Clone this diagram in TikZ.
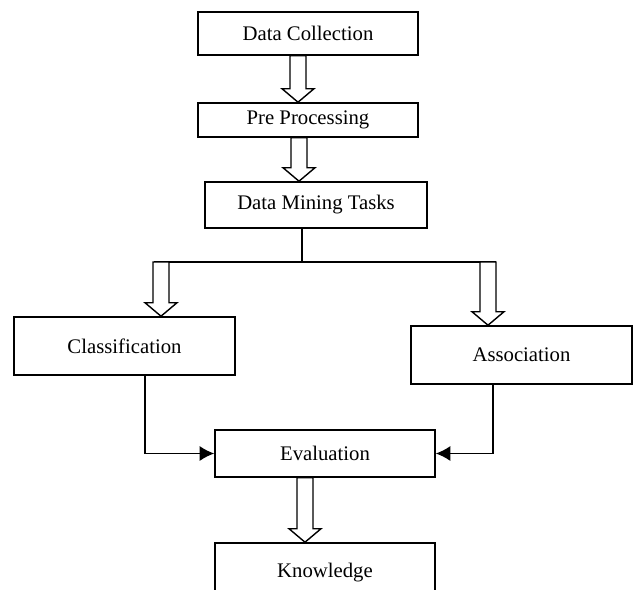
\documentclass[tikz,border=0pt]{standalone}
\usepackage{fontspec}
\setmainfont{Liberation Serif}
\usetikzlibrary{arrows.meta,calc}

% grosse fleche creuse : depart, arrivee (on garde le x du depart)
\newcommand{\grossefleche}[2]{%
  \draw[fleche] let \p1=(#1), \p2=(#2) in
    (\x1-0.16cm,\y1) -- (\x1+0.16cm,\y1) -- (\x1+0.16cm,\y2+0.27cm)
    -- (\x1+0.32cm,\y2+0.27cm) -- (\x1,\y2) -- (\x1-0.32cm,\y2+0.27cm)
    -- (\x1-0.16cm,\y2+0.27cm) -- cycle;}

\begin{document}
\begin{tikzpicture}[x=0.02cm, y=-0.02cm]
\tikzset{boite/.style={draw, line width=0.9pt, inner sep=0pt, minimum width=4.4cm,
    font=\fontsize{11.8}{14}\selectfont},
  fleche/.style={draw, fill=white, line width=0.8pt, line join=miter},
  lien/.style={line width=0.9pt, -{Latex[length=2.9mm, width=3mm]}}}
\useasboundingbox (0,0) rectangle (633,589);
\clip (0,0) rectangle (633,589);
\node[boite, minimum height=0.86cm] (DC) at (308,33.5) {Data Collection};
\node[boite, minimum height=0.68cm] (PP) at (308,120) {Pre Processing};
\node[boite, minimum width=4.44cm, minimum height=0.92cm] (DMT) at (316,205) {Data Mining Tasks};
\node[boite, minimum width=4.42cm, minimum height=1.16cm] (CL) at (124.5,346) {Classification};
\node[boite, minimum width=4.42cm, minimum height=1.16cm] (AS) at (521.5,355) {Association};
\node[boite, minimum height=0.94cm] (EV) at (325,453.5) {Evaluation};
\node[boite, minimum height=1.2cm] (KN) at (325,573) {Knowledge};
\coordinate (SM) at (302,262);
\coordinate (SG) at (154,262);
\coordinate (SD) at (496,262);
\draw[line width=0.8pt] (DMT.south -| SM) -- (SM);
\draw[line width=0.8pt] (SG) -- (SD);
\grossefleche{$(DC.south)+(-10,0)$}{PP.north}
\grossefleche{$(PP.south)+(-9,0)$}{DMT.north}
\grossefleche{$(SG)+(7,0)$}{CL.north}
\grossefleche{$(SD)+(-8,0)$}{AS.north}
\grossefleche{$(EV.south)+(-20,0)$}{KN.north}
\draw[lien] ($(CL.south)+(20.5,0)$) |- (EV.west);
\draw[lien] ($(AS.south)+(-28.5,0)$) |- (EV.east);
\end{tikzpicture}
\end{document}
